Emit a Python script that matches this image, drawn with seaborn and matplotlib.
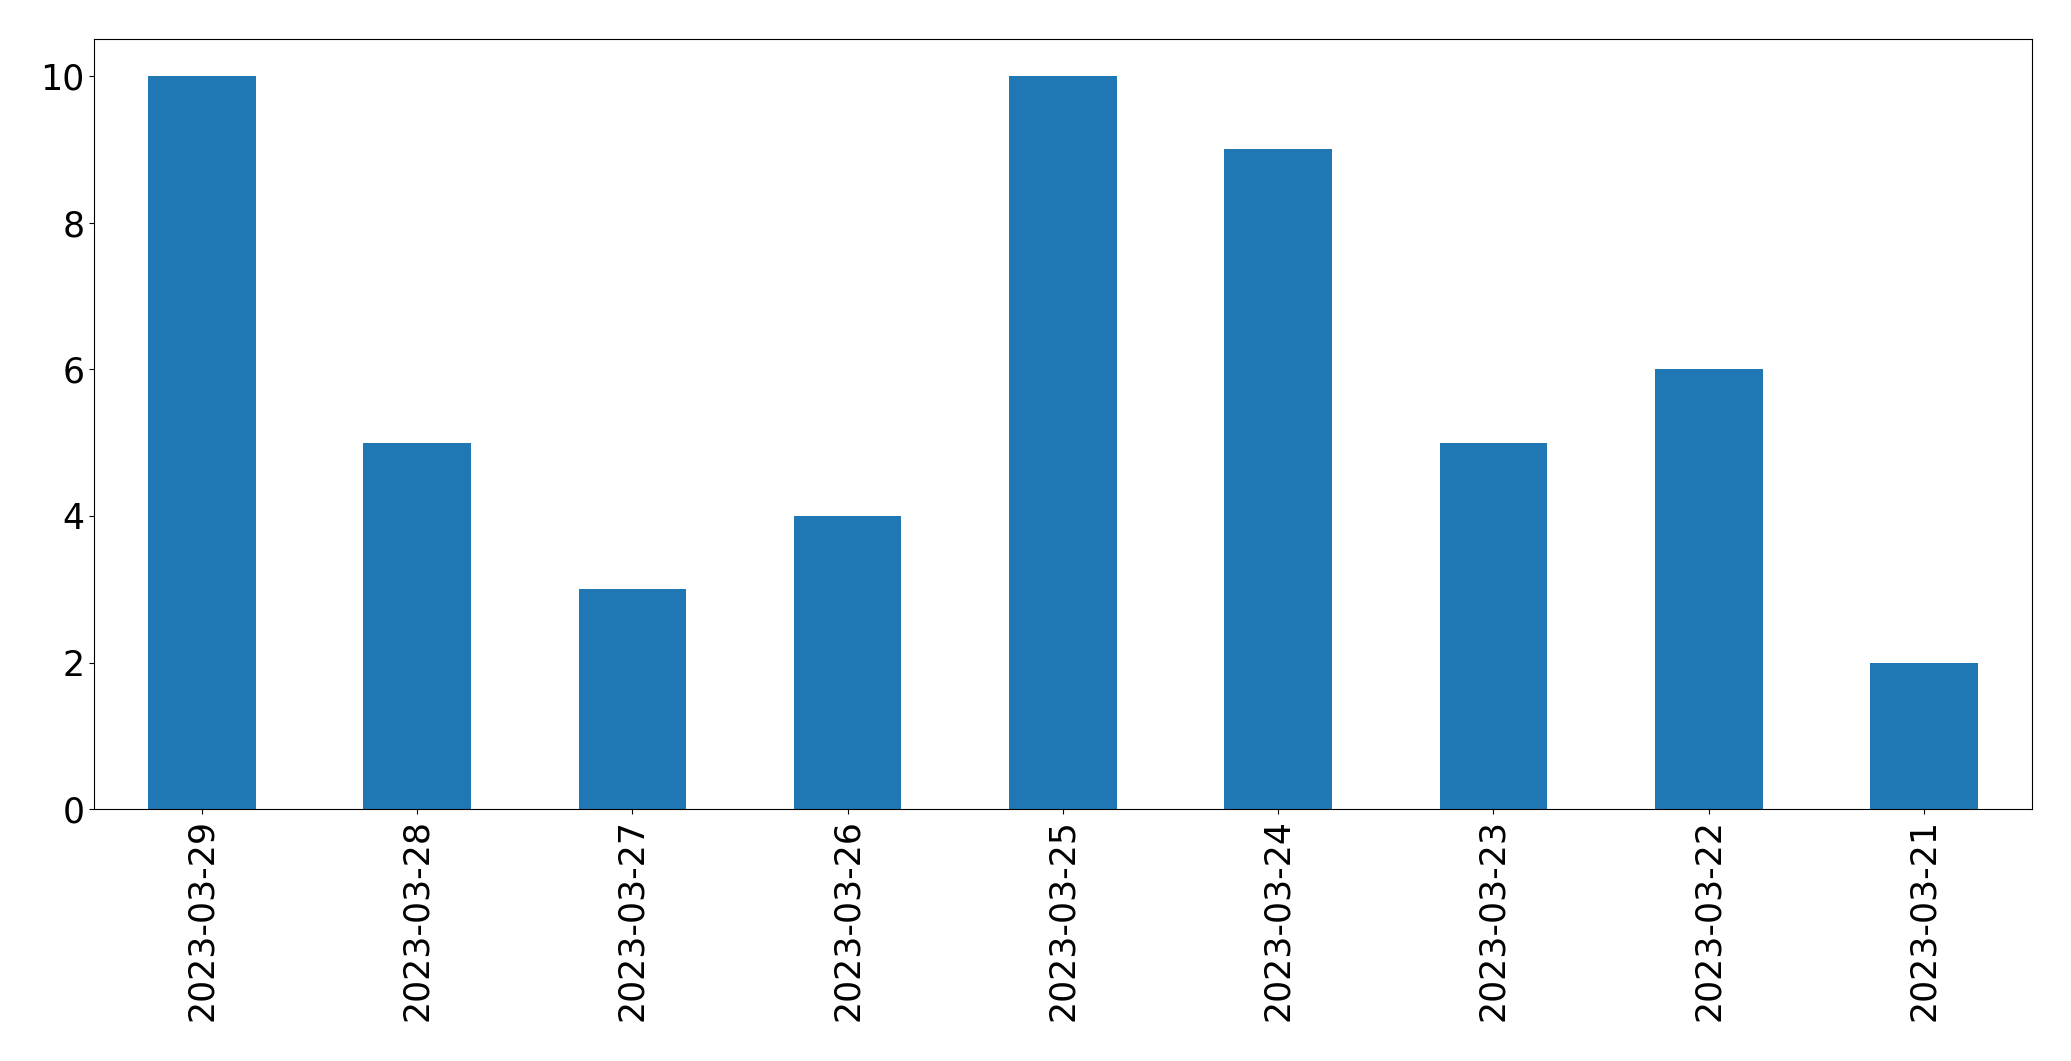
import matplotlib
matplotlib.use("Agg")
import matplotlib.pyplot as plt
import seaborn as sns
import pandas as pd

dates = ["2023-03-29", "2023-03-28", "2023-03-27", "2023-03-26", "2023-03-25",
         "2023-03-24", "2023-03-23", "2023-03-22", "2023-03-21"]
counts = [10, 5, 3, 4, 10, 9, 5, 6, 2]

df = pd.DataFrame({"date": dates, "count": counts})

fig = plt.figure(figsize=(20.71, 10.61), dpi=100)
ax = fig.add_axes([0.0455, 0.2372, 0.9355, 0.7258])
sns.barplot(data=df, x="date", y="count", order=dates, color="#1f77b4",
            saturation=1, width=0.5, ax=ax)
ax.set_xlim(-0.5, len(dates) - 0.5)
ax.set_ylim(0, 10.5)
ax.set_xlabel("")
ax.set_ylabel("")
ax.tick_params(axis="both", labelsize=25)
ax.tick_params(axis="x", labelrotation=90)
fig.savefig("out.png", dpi=100)
